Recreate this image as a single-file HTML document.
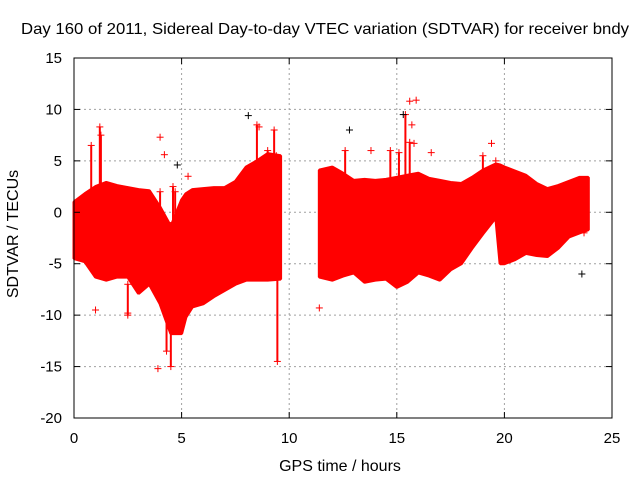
<!DOCTYPE html>
<html><head><meta charset="utf-8"><style>
body{margin:0;background:#fff}
svg{display:block;font-family:"Liberation Sans",sans-serif}
</style></head><body>
<svg id="chart" width="640" height="480" viewBox="0 0 640 480" xmlns="http://www.w3.org/2000/svg">
<rect width="640" height="480" fill="#fff"/>
<text x="325" y="34" font-size="16" textLength="608" lengthAdjust="spacingAndGlyphs" text-anchor="middle">Day 160 of 2011, Sidereal Day-to-day VTEC variation (SDTVAR) for receiver bndy</text>
<g id="grid"></g>
<g id="data"></g>
<rect x="74" y="58" width="538" height="360" fill="none" stroke="#000"/>
<g id="axes"></g>
<text x="340" y="471" font-size="16" text-anchor="middle">GPS time / hours</text>
<text transform="translate(18,234) rotate(-90)" font-size="16" text-anchor="middle">SDTVAR / TECUs</text>
</svg>
<script>
const xTicks=[0,5,10,15,20,25];
const yTicks=[15,10,5,0,-5,-10,-15,-20];
// band segment 1 (before data gap)
const seg1Hours=[0,0.5,1,1.5,2,2.5,3,3.5,4,4.5,5,5.2,5.5,6,6.5,7,7.5,8,8.5,9,9.6];
const seg1Upper=[1,1.8,2.5,2.9,2.6,2.4,2.2,2.1,0.5,-1.4,1.2,1.8,2.2,2.3,2.4,2.4,3,4.4,5,5.7,5.5];
const seg1Lower=[-4.5,-4.8,-6.3,-6.6,-6.3,-6.3,-7.9,-7,-8.9,-11.8,-11.8,-10.2,-9.2,-8.9,-8.2,-7.6,-7,-6.6,-6.6,-6.6,-6.5];
// band segment 2 (after gap)
const seg2Hours=[11.4,12,12.5,13,13.5,14,14.5,15,15.5,16,16.5,17,17.5,18,18.5,19,19.6,19.8,20,20.5,21,21.5,22,22.5,23,23.5,23.9];
const seg2Upper=[4.1,4.4,3.8,3.1,3.2,3.1,3.2,3.4,3.6,3.8,3.3,3.1,2.9,2.8,3.4,4.1,4.7,4.6,4.4,4,3.6,2.8,2.3,2.6,3,3.4,3.4];
const seg2Lower=[-6.3,-6.6,-6.2,-5.9,-6.8,-6.6,-6.5,-7.3,-6.8,-5.9,-6.2,-6.6,-5.6,-5,-3.5,-2.1,-0.5,-5,-5,-4.6,-4,-4.2,-4.3,-3.5,-2.4,-2,-1.7];
// spikes: hour, top, bottom
const spikeHours=[0.8,1.2,1.25,4.0,4.6,4.7,7.8,8.5,9.0,9.3,9.4,12.6,14.7,15.1,15.4,15.6,19.0,4.5,2.5,9.45,4.3];
const spikeTops=[6.5,8.3,7.5,2,2.5,2,3,8.5,6,8,5.5,6,6,5.8,9.5,6.8,5.5,-8,-7,-5,-8];
const spikeBottoms=[0,0,0,-1,-1,-1,0,0,0,0,0,0,0,0,0,0,0,-15,-10,-14.5,-13.5];
// isolated points
const ptHours=[4.0,4.2,4.8,5.3,8.1,8.6,12.8,13.8,15.3,15.6,15.7,15.8,16.6,19.4,19.6,23.6,1.0,2.5,11.4,3.9,23.7,15.9];
const ptValues=[7.3,5.6,4.6,3.5,9.4,8.3,8,6,9.5,10.8,8.5,6.7,5.8,6.7,5,-6,-9.5,-9.8,-9.3,-15.2,-2,10.9];
const ptBlack=[0,0,1,0,1,0,1,0,1,0,0,0,0,0,0,1,0,0,0,0,0,0];

const NS='http://www.w3.org/2000/svg';
const X0=74,X1=612,Y0=418,Y1=58;
const xs=v=>X0+(v-0)/25*(X1-X0);
const ys=v=>Y0-(v+20)/35*(Y0-Y1);
function mk(tag,attrs,parent){const e=document.createElementNS(NS,tag);for(const k in attrs)e.setAttribute(k,attrs[k]);parent.appendChild(e);return e;}
const grid=document.getElementById('grid'),axes=document.getElementById('axes'),data=document.getElementById('data');
xTicks.forEach(t=>{
  const x=xs(t);
  if(t>0&&t<25){const g=mk('line',{x1:x,x2:x,y1:Y1,y2:Y0,stroke:'#a0a0a0','stroke-dasharray':'2,3'},grid);
  
  }
  mk('line',{x1:x,x2:x,y1:Y0,y2:Y0-6,stroke:'#000'},axes);
  mk('line',{x1:x,x2:x,y1:Y1,y2:Y1+6,stroke:'#000'},axes);
  const l=mk('text',{x:x,y:443,'font-size':15,'text-anchor':'middle'},axes);l.textContent=t;
  
  
});
yTicks.forEach(t=>{
  const y=ys(t);
  if(t<15&&t>-20){const g=mk('line',{x1:X0,x2:X1,y1:y,y2:y,stroke:'#a0a0a0','stroke-dasharray':'2,3'},grid);
  
  }
  mk('line',{x1:X0,x2:X0+6,y1:y,y2:y,stroke:'#000'},axes);
  mk('line',{x1:X1,x2:X1-6,y1:y,y2:y,stroke:'#000'},axes);
  const l=mk('text',{x:62,y:y+5,'font-size':15,'text-anchor':'end'},axes);l.textContent=t;
  
  
});
function band(h,u,lo,name){
  let pts=h.map((t,i)=>xs(t)+','+ys(u[i]));
  for(let i=h.length-1;i>=0;i--)pts.push(xs(h[i])+','+ys(lo[i]));
  const p=mk('polygon',{points:pts.join(' '),fill:'#ff0000',stroke:'#ff0000','stroke-width':3,'stroke-linejoin':'bevel'},data);
  
  
}
band(seg1Hours,seg1Upper,seg1Lower,'band-before-gap');
band(seg2Hours,seg2Upper,seg2Lower,'band-after-gap');
function cross(x,y,c){
  mk('line',{x1:x-3.5,x2:x+3.5,y1:y,y2:y,stroke:c},data);
  mk('line',{x1:x,x2:x,y1:y-3.5,y2:y+3.5,stroke:c},data);
}
spikeHours.forEach((t,i)=>{
  const x=xs(t);
  const s=mk('line',{x1:x,x2:x,y1:ys(spikeTops[i]),y2:ys(spikeBottoms[i]),stroke:'#ff0000','stroke-width':2},data);
  
  
  cross(x,ys(spikeTops[i]),'#ff0000');cross(x,ys(spikeBottoms[i]),'#ff0000');
});
ptHours.forEach((t,i)=>{cross(xs(t),ys(ptValues[i]),ptBlack[i]?'#000':'#ff0000');});
</script>
</body></html>
